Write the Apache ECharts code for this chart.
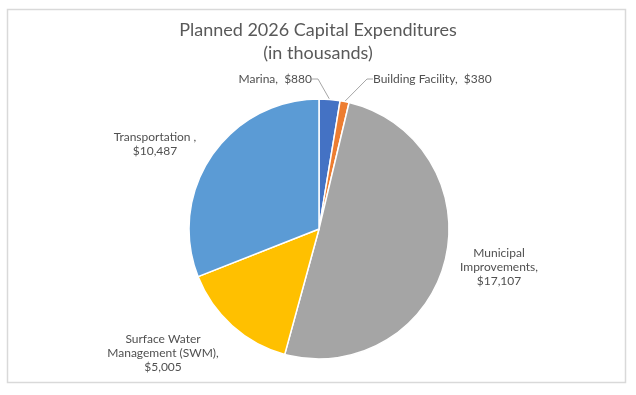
<!DOCTYPE html>
<html>
<head>
<meta charset="utf-8">
<script src="https://cdn.jsdelivr.net/npm/echarts@6/dist/echarts.min.js"></script>
<style>html,body{margin:0;padding:0;background:#fff;}#c{width:636px;height:395px;}</style>
</head>
<body>
<div id="c"></div>
<script>
var categories = ['Marina', 'Building Facility', 'Municipal Improvements', 'Surface Water Management (SWM)', 'Transportation'];
var values = [880, 380, 17107, 5005, 10487];
var labelNames = ['Marina,', 'Building Facility,', 'Municipal\nImprovements,', 'Surface Water\nManagement (SWM),', 'Transportation ,'];
var labelSeps = ['  ', '  ', '\n', '\n', '\n'];
var colors = ['#4472C4', '#ED7D31', '#A5A5A5', '#FFC000', '#5B9BD5'];
var titleText = 'Planned 2026 Capital Expenditures\n(in thousands)';

// label anchor placement (layout only)
var labelPlace = [
  {x: 312, y: 79, align: 'right'},
  {x: 373, y: 79, align: 'left'},
  {x: 499, y: 267, align: 'center'},
  {x: 163, y: 353, align: 'center'},
  {x: 155, y: 144, align: 'center'}
];
var hasLine = [true, true, false, false, false];

var FONT = 'Lato, "Open Sans", sans-serif';
var chart = echarts.init(document.getElementById('c'), null, {renderer: 'canvas'});
chart.setOption({
  animation: false,
  backgroundColor: '#ffffff',
  title: {
    text: titleText,
    left: 'center',
    top: 14,
    textStyle: {color: '#595959', fontSize: 18, fontWeight: 'normal', fontFamily: FONT, lineHeight: 23}
  },
  graphic: [{
    type: 'rect',
    shape: {x: 7.5, y: 9.5, width: 618, height: 373},
    style: {fill: 'none', stroke: '#d9d9d9', lineWidth: 1.5},
    silent: true
  }],
  series: [{
    type: 'pie',
    center: [319, 229],
    radius: 130,
    startAngle: 90,
    clockwise: true,
    avoidLabelOverlap: false,
    itemStyle: {borderColor: '#ffffff', borderWidth: 1.5},
    label: {
      show: true,
      position: 'outside',
      color: '#505050',
      fontSize: 12,
      lineHeight: 14,
      fontFamily: FONT,
      formatter: function (p) {
        return labelNames[p.dataIndex] + labelSeps[p.dataIndex] + '$' + p.value.toLocaleString('en-US');
      }
    },
    labelLine: {show: true, length: 8, length2: 6, lineStyle: {color: '#a6a6a6', width: 1}},
    labelLayout: function (params) {
      var pl = labelPlace[params.dataIndex];
      return {x: pl.x, y: pl.y, align: pl.align, verticalAlign: 'middle'};
    },
    data: categories.map(function (name, i) {
      return {
        name: name,
        value: values[i],
        itemStyle: {color: colors[i]},
        labelLine: {show: hasLine[i]},
        label: {align: labelPlace[i].align}
      };
    })
  }]
});
</script>
</body>
</html>
